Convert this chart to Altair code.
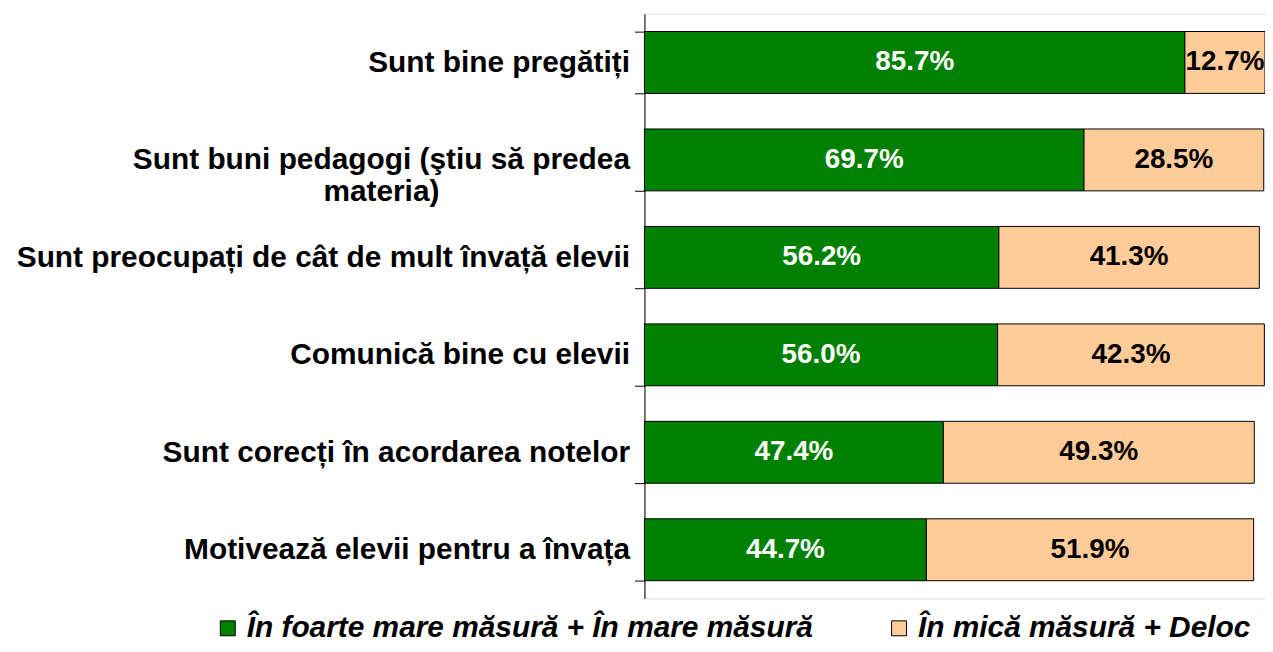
import altair as alt
import pandas as pd

# ---- data ----
categories = [
    "Sunt bine pregătiți",
    "Sunt buni pedagogi (ştiu să predea|materia)",
    "Sunt preocupați de cât de mult învață elevii",
    "Comunică bine cu elevii",
    "Sunt corecți în acordarea notelor",
    "Motivează elevii pentru a învața",
]
series_names = ["În foarte mare măsură + În mare măsură", "În mică măsură + Deloc"]
high_values = [85.7, 69.7, 56.2, 56.0, 47.4, 44.7]
low_values = [12.7, 28.5, 41.3, 42.3, 49.3, 51.9]
series_colors = ["#008000", "#FFCC99"]

rows = []
for cat, hv, lv in zip(categories, high_values, low_values):
    rows.append({"category": cat, "series": series_names[0], "start": 0.0, "end": hv,
                 "mid": hv / 2, "label": f"{hv:.1f}%"})
    rows.append({"category": cat, "series": series_names[1], "start": hv, "end": hv + lv,
                 "mid": hv + lv / 2, "label": f"{lv:.1f}%"})
df = pd.DataFrame(rows)

FONT = "Liberation Sans"
pad = "\u00a0" * 23 + "\u200b"
label_expr = (
    "indexof(datum.label, '|') > 0 ? "
    "[split(datum.label, '|')[0], split(datum.label, '|')[1] + '" + pad + "'] : datum.label"
)

y_enc = alt.Y(
    "category:N",
    sort=categories,
    scale=alt.Scale(paddingInner=0.365, paddingOuter=0.1825),
    axis=alt.Axis(
        title=None,
        labelExpr=label_expr,
        labelFont=FONT,
        labelFontSize=30,
        labelFontWeight="bold",
        labelColor="black",
        labelLimit=0,
        labelPadding=5,
        labelLineHeight=32,
        tickSize=10,
        tickColor="black",
        tickBand="extent",
        domainColor="black",
        grid=False,
    ),
)

x_scale = alt.Scale(domain=[0, 98.4], nice=False, zero=True)

bars = alt.Chart(df).mark_bar(stroke="black", strokeWidth=1).encode(
    y=y_enc,
    x=alt.X("start:Q", scale=x_scale, axis=None),
    x2="end:Q",
    color=alt.Color(
        "series:N",
        scale=alt.Scale(domain=series_names, range=series_colors),
        legend=alt.Legend(
            title=None,
            orient="none",
            legendX=-434,
            legendY=603,
            direction="horizontal",
            symbolType="square",
            symbolSize=225,
            symbolStrokeColor="black",
            symbolStrokeWidth=1,
            symbolOpacity=1,
            labelFont=FONT,
            labelFontSize=30,
            labelFontWeight="bold",
            labelFontStyle="italic",
            labelColor="black",
            labelLimit=0,
            labelOffset=4,
            columnPadding=71,
            padding=0,
        ),
    ),
)

texts = alt.Chart(df).mark_text(font=FONT, fontSize=28, fontWeight="bold").encode(
    y=alt.Y("category:N", sort=categories),
    x=alt.X("mid:Q", scale=x_scale, axis=None),
    text="label:N",
    color=alt.condition(alt.datum.series == series_names[0], alt.value("white"), alt.value("black")),
)

chart = alt.layer(bars, texts).properties(
    width=624,
    height=588,
    autosize=alt.AutoSizeParams(type="none"),
    padding={"left": 640, "top": 4, "right": 0, "bottom": 44},
).configure_view(stroke=None).configure(background="white")

chart.save("out.html", embed_options={"renderer": "svg", "actions": False})
